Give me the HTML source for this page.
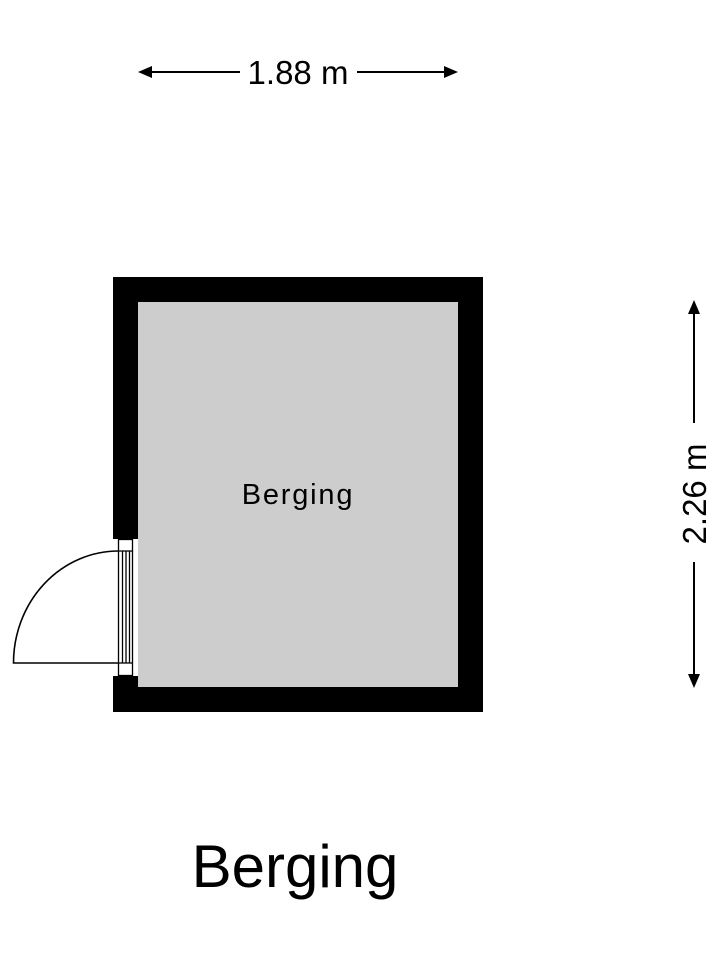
<!DOCTYPE html>
<html><head><style>body{margin:0;background:#fff}</style></head><body>
<svg width="720" height="960" xmlns="http://www.w3.org/2000/svg" style="display:block">
<rect width="720" height="960" fill="#fff"/>
<rect x="113" y="277" width="370" height="435" fill="#000"/>
<rect x="138" y="302" width="320" height="385" fill="#cdcdcd"/>
<rect x="113" y="539" width="25" height="137" fill="#fff"/>
<rect x="138" y="539" width="2" height="137" fill="#cdcdcd"/>
<g stroke="#000" stroke-width="1.3" fill="none">
<rect x="118.5" y="539.5" width="14" height="136"/>
<line x1="122.5" y1="551" x2="122.5" y2="663"/>
<line x1="126" y1="551" x2="126" y2="663"/>
<line x1="129.5" y1="551" x2="129.5" y2="663"/>
<line x1="118.5" y1="551" x2="132.5" y2="551"/>
<line x1="118.5" y1="663" x2="132.5" y2="663"/>
<path d="M118.5 551 A105 112 0 0 0 13.5 663 L118.5 663" stroke-width="1.6"/>
</g>
<g stroke="#000" stroke-width="2">
<line x1="150" y1="72" x2="240" y2="72"/>
<line x1="357" y1="72" x2="446" y2="72"/>
<line x1="694" y1="312" x2="694" y2="423"/>
<line x1="694" y1="562" x2="694" y2="676"/>
</g>
<g fill="#000">
<polygon points="138,72 152,66 152,78"/>
<polygon points="458,72 444,66 444,78"/>
<polygon points="694,300 688,314 700,314"/>
<polygon points="694,688 688,674 700,674"/>
</g>
<g font-family="Liberation Sans, sans-serif" fill="#000" text-anchor="middle">
<text x="298" y="84" font-size="33">1.88 m</text>
<text x="0" y="0" font-size="33" transform="translate(706,494) rotate(-90)">2.26 m</text>
<text x="298" y="504" font-size="29" letter-spacing="1.8">Berging</text>
<text x="295" y="887" font-size="60">Berging</text>
</g>
</svg>
</body></html>
